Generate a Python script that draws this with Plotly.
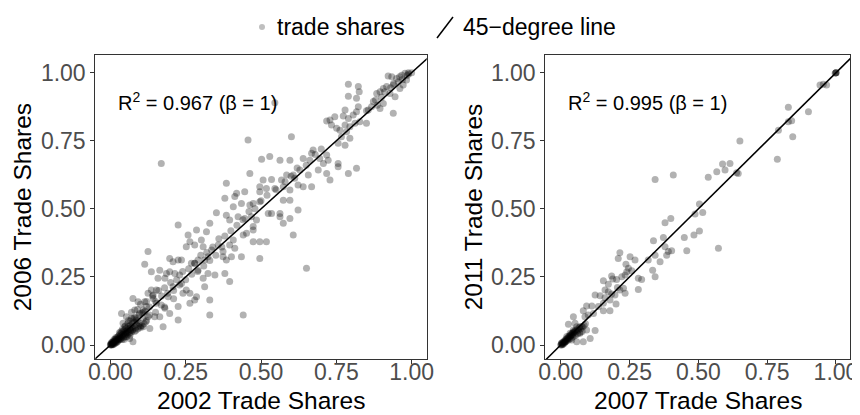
import plotly.graph_objects as go

# ---------------- data ----------------
x2002 = [0.922,0.934,0.950,0.967,0.978,0.989,0.956,0.939,0.917,0.906,0.895,0.884,0.928,0.945,0.961,0.972,0.983,0.939,
         0.886,0.895,0.906,0.873,0.867,0.856,0.823,0.826,0.790,0.790,0.817,0.823,0.817,0.806,0.790,0.779,0.773,0.745,
         0.729,0.718,0.734,0.751,0.762,0.779,0.795,0.812,0.828,0.850,0.784,0.767,0.756,0.779,0.795,0.601,0.457,0.546,0.169,
         0.673,0.668,0.695,0.718,0.723,0.707,0.690,0.662,0.640,0.629,0.657,0.596,0.563,0.529,0.502,0.607,0.585,0.568,
         0.535,0.507,0.496,0.463,0.385,0.419,0.413,0.446,0.496,0.518,0.546,0.574,0.596,0.612,0.623,0.640,0.668,0.729,
         0.718,0.756,0.756,0.790,0.817,0.596,0.574,0.563,0.535,0.524,0.496,0.474,0.463,0.435,0.408,0.380,0.352,0.385,
         0.396,0.424,0.446,0.468,0.485,0.474,0.452,0.441,0.408,0.396,0.374,0.358,0.330,0.319,0.302,0.286,0.258,0.264,
         0.225,0.252,0.280,0.308,0.336,0.324,0.313,0.291,0.280,0.269,0.236,0.225,0.208,0.197,0.186,0.181,0.158,0.153,
         0.142,0.125,0.114,0.136,0.164,0.197,0.214,0.230,0.236,0.252,0.241,0.264,0.286,0.313,0.308,0.291,0.324,0.347,
         0.380,0.396,0.385,0.374,0.402,0.435,0.496,0.413,0.651,0.607,0.623,0.574,0.563,0.596,0.518,0.496,0.474,0.474,
         0.441,0.330,0.330,0.280,0.264,0.225,0.225,0.197,0.181,0.169,0.153,0.142,0.120,0.109,0.097,0.081,0.075,0.092,
         0.114,0.125,0.136,0.208,0.192,0.175,0.131,0.109,0.075,0.064,0.053,0.042,0.037,0.048,0.086,0.109,0.125,0.147,
         0.164,0.053,0.070,
         0.000,0.002,0.004,0.005,0.007,0.008,0.010,0.011,0.012,0.014,0.015,0.016,0.018,0.019,0.020,0.021,0.022,0.024,
         0.025,0.026,0.028,0.029,0.030,0.032,0.033,0.035,0.036,0.038,0.040,0.041,0.043,0.045,0.046,0.048,0.050,0.052,
         0.054,0.056,0.058,0.060,0.062,0.064,0.066,0.068,0.070,0.072,0.075,0.078,0.080,0.083,0.086,0.090,0.094,0.098,
         0.003,0.006,0.009,0.013,0.017,0.001,0.003,0.007,0.012,0.018,0.023,0.027,0.034,0.039,0.044,0.050,0.057,0.063,
         0.069,0.073,0.085,0.092,0.100,0.105,0.112,0.118,0.030,0.040,0.049,0.058,0.065,0.075,0.085,0.095,0.105,0.115,
         0.960,0.970,0.940,0.930,0.910,0.990,1.000,0.985,
         0.060,0.070,0.080,0.090,0.100,0.110,0.120,0.130,0.140,0.150,0.160,0.170,0.180,0.190,0.200,0.210,0.220,0.230,
         0.240,0.250,0.260,0.270,0.280,0.290,0.300,0.310,0.320,0.330,0.340,0.350,0.360,0.370,0.380,0.400,0.420,0.440,
         0.460,0.480,0.500,0.520,0.550,0.580,0.600,0.620,0.650,0.680,0.700,0.850,0.880,0.900,
         0.100,0.120,0.150,0.180,0.210,0.080,0.130,0.045,0.055,0.035,0.065]
y2006 = [0.988,0.985,0.979,0.991,0.998,1.000,0.967,0.955,0.949,0.942,0.930,0.924,0.924,0.912,0.942,0.955,0.973,0.851,
         0.881,0.869,0.887,0.894,0.875,0.863,0.949,0.930,0.958,0.914,0.906,0.875,0.857,0.845,0.832,0.863,0.841,0.838,
         0.826,0.823,0.808,0.796,0.789,0.808,0.802,0.814,0.820,0.814,0.783,0.765,0.741,0.734,0.759,0.765,0.753,0.890,0.667,
         0.716,0.704,0.685,0.698,0.679,0.667,0.643,0.679,0.685,0.643,0.624,0.679,0.679,0.692,0.682,0.624,0.624,0.606,
         0.608,0.606,0.581,0.630,0.594,0.557,0.545,0.563,0.563,0.575,0.575,0.581,0.569,0.612,0.588,0.581,0.581,0.606,
         0.630,0.667,0.655,0.630,0.649,0.532,0.532,0.483,0.483,0.483,0.526,0.520,0.514,0.520,0.508,0.539,0.486,0.477,
         0.459,0.471,0.465,0.471,0.459,0.422,0.410,0.404,0.386,0.367,0.343,0.367,0.447,0.416,0.386,0.422,0.404,0.379,
         0.441,0.361,0.367,0.361,0.349,0.324,0.312,0.312,0.300,0.300,0.312,0.312,0.306,0.318,0.263,0.245,0.245,0.202,
         0.184,0.343,0.297,0.269,0.275,0.269,0.263,0.257,0.226,0.202,0.190,0.190,0.177,0.214,0.245,0.275,0.263,0.257,
         0.263,0.233,0.312,0.324,0.324,0.324,0.318,0.355,0.282,0.404,0.496,0.447,0.471,0.465,0.379,0.379,0.435,0.379,
         0.110,0.110,0.165,0.165,0.153,0.141,0.092,0.116,0.135,0.147,0.153,0.171,0.141,0.129,0.116,0.129,0.171,0.159,
         0.159,0.190,0.202,0.214,0.177,0.067,0.061,0.067,0.012,0.024,0.043,0.080,0.116,0.067,0.092,0.098,0.104,0.104,
         0.104,0.104,0.098,
         0.000,0.001,0.003,0.006,0.004,0.010,0.008,0.013,0.006,0.016,0.011,0.020,0.014,0.023,0.009,0.018,0.027,0.021,
         0.015,0.031,0.024,0.036,0.019,0.029,0.041,0.025,0.034,0.046,0.030,0.039,0.052,0.036,0.044,0.057,0.041,0.050,
         0.062,0.046,0.055,0.068,0.050,0.060,0.073,0.055,0.064,0.078,0.058,0.070,0.084,0.062,0.076,0.088,0.068,0.080,
         0.008,0.000,0.002,0.004,0.007,0.004,0.001,0.012,0.020,0.028,0.012,0.019,0.022,0.020,0.027,0.030,0.038,0.043,
         0.047,0.052,0.054,0.060,0.064,0.072,0.078,0.085,0.045,0.058,0.070,0.080,0.088,0.096,0.100,0.110,0.118,0.124,
         0.985,0.975,0.960,0.945,0.930,0.995,1.000,0.990,
         0.090,0.120,0.100,0.130,0.150,0.120,0.160,0.140,0.180,0.160,0.200,0.180,0.210,0.190,0.230,0.200,0.240,0.220,
         0.270,0.240,0.280,0.260,0.300,0.270,0.330,0.290,0.340,0.310,0.360,0.330,0.390,0.360,0.400,0.420,0.440,0.460,
         0.490,0.500,0.530,0.550,0.570,0.600,0.620,0.650,0.660,0.700,0.720,0.860,0.900,0.910,
         0.070,0.090,0.120,0.140,0.170,0.050,0.110,0.020,0.030,0.050,0.035]

x2007 = [1.000,1.000,1.000,0.997,0.942,0.966,0.954,0.827,0.839,0.827,0.900,0.843,0.791,0.787,0.651,0.588,0.615,
         0.597,0.567,0.536,0.639,0.645,0.409,0.343,0.504,0.488,0.516,0.400,0.379,0.449,0.484,0.504,0.337,0.373,0.379,
         0.343,0.391,0.403,0.385,0.361,0.458,0.573,0.318,0.343,0.334,0.215,0.209,0.252,0.270,0.237,0.246,0.258,0.240,
         0.234,0.222,0.203,0.189,0.185,0.282,0.294,0.155,0.173,0.161,0.173,0.185,0.206,0.215,0.228,0.197,0.179,0.161,
         0.143,0.125,0.155,0.234,0.282,0.201,0.179,0.155,0.137,0.113,0.094,0.082,0.119,0.100,0.088,0.046,0.052,0.028,
         0.125,0.107,0.082,0.058,0.040,0.022,0.034,0.070,0.094,0.004,0.016,0.046,0.058,0.070,
         0.000,0.002,0.004,0.006,0.008,0.010,0.012,0.014,0.016,0.018,0.020,0.022,0.024,0.026,0.028,0.030,0.032,0.034,
         0.036,0.038,0.040,0.042,0.044,0.046,0.048,0.050,0.053,0.056,0.060,0.064,0.068,0.072,0.076,0.080,0.085,0.090,
         0.003,0.007,0.011,0.015,0.019,0.025,0.031,0.037,0.043,0.049,0.055,0.062,0.070,0.078]
y2011 = [1.000,1.000,1.000,0.998,0.955,0.955,0.958,0.873,0.824,0.820,0.857,0.765,0.789,0.682,0.749,0.665,0.667,
         0.643,0.636,0.616,0.633,0.630,0.624,0.608,0.518,0.481,0.487,0.465,0.449,0.395,0.404,0.419,0.383,0.395,0.361,
         0.330,0.343,0.346,0.330,0.306,0.346,0.355,0.312,0.251,0.275,0.339,0.318,0.324,0.312,0.297,0.282,0.273,0.269,
         0.257,0.251,0.241,0.242,0.253,0.245,0.241,0.236,0.223,0.202,0.196,0.187,0.211,0.202,0.208,0.184,0.165,0.174,
         0.181,0.184,0.153,0.190,0.204,0.151,0.126,0.126,0.141,0.143,0.143,0.126,0.116,0.110,0.104,0.104,0.080,0.076,
         0.053,0.024,0.012,0.012,0.018,0.031,0.043,0.043,0.055,0.000,0.012,0.055,0.067,0.067,
         0.000,0.003,0.006,0.004,0.010,0.008,0.014,0.011,0.018,0.015,0.022,0.019,0.026,0.023,0.030,0.027,0.034,0.031,
         0.038,0.035,0.042,0.039,0.046,0.043,0.050,0.047,0.054,0.051,0.058,0.055,0.063,0.060,0.068,0.066,0.072,0.078,
         0.007,0.002,0.005,0.009,0.013,0.017,0.021,0.024,0.029,0.033,0.037,0.041,0.046,0.050]

r2_labels = ["R<sup>2</sup> = 0.967 (β = 1)", "R<sup>2</sup> = 0.995 (β = 1)"]
x_titles = ["2002 Trade Shares", "2007 Trade Shares"]
y_titles = ["2006 Trade Shares", "2011 Trade Shares"]
tick_vals = [0.0, 0.25, 0.5, 0.75, 1.0]
tick_text = ["0.00", "0.25", "0.50", "0.75", "1.00"]
legend_labels = ["trade shares", "45\u2212degree line"]

# ---------------- layout constants ----------------
# The page body has an 8px default margin: shrink the figure and shift coordinates.
OFF = 8
W, H = 860 - OFF, 415 - OFF


def px(x):
    return (x - OFF) / W


def py(y):
    return 1 - (y - OFF) / H


FONT = "Liberation Sans, Arial, Helvetica, sans-serif"
PT_COLOR = "rgba(0,0,0,0.3)"
x_rng1 = [-0.05, 1.05]
x_rng2 = [-0.056, 1.051]
y_rng = [-0.0525, 1.064]
dom_x1 = [px(95.3), px(426.7)]
dom_x2 = [px(545.3), px(850.0)]
dom_y = [py(359.3), py(55.3)]

fig = go.Figure()
panels = [(x2002, y2006, "x", "y", x_rng1), (x2007, y2011, "x2", "y2", x_rng2)]
for xs, ys, xa, ya, xr in panels:
    fig.add_trace(go.Scatter(x=xs, y=ys, xaxis=xa, yaxis=ya, mode="markers",
                             marker=dict(size=7, color=PT_COLOR, line=dict(width=0)),
                             showlegend=False, hoverinfo="skip", cliponaxis=True))
    lo = min(xr[0], y_rng[0]) - 0.1
    hi = max(xr[1], y_rng[1]) + 0.1
    fig.add_trace(go.Scatter(x=[lo, hi], y=[lo, hi], xaxis=xa, yaxis=ya, mode="lines",
                             line=dict(color="black", width=1.5), showlegend=False,
                             hoverinfo="skip"))

axis_common = dict(showgrid=False, zeroline=False, showline=True, mirror=True,
                   linecolor="#333333", linewidth=1.1, ticks="outside", ticklen=4,
                   tickwidth=1.1, tickcolor="#333333", tickvals=tick_vals, ticktext=tick_text,
                   tickfont=dict(family=FONT, size=23, color="#4D4D4D"), automargin=False)
xaxis_extra = dict(ticklabelstandoff=-12)

fig.update_layout(
    width=W, height=H, margin=dict(l=0, r=0, t=0, b=0),
    paper_bgcolor="white", plot_bgcolor="white", showlegend=False,
    xaxis=dict(domain=dom_x1, range=x_rng1, anchor="y", **axis_common, **xaxis_extra),
    yaxis=dict(domain=dom_y, range=y_rng, anchor="x", **axis_common),
    xaxis2=dict(domain=dom_x2, range=x_rng2, anchor="y2", **axis_common, **xaxis_extra),
    yaxis2=dict(domain=dom_y, range=y_rng, anchor="x2", **axis_common),
)

ann = []
for i, (xref, yref) in enumerate([("x", "y"), ("x2", "y2")]):
    ann.append(dict(x=0.02, y=0.895, xref=xref, yref=yref, text=r2_labels[i], showarrow=False,
                    xanchor="left", yanchor="middle", font=dict(family=FONT, size=20, color="black")))
for i, cx in enumerate([(dom_x1[0] + dom_x1[1]) / 2, (dom_x2[0] + dom_x2[1]) / 2]):
    ann.append(dict(x=cx, y=py(400), xref="paper", yref="paper", text=x_titles[i],
                    showarrow=False, xanchor="center", yanchor="middle",
                    font=dict(family=FONT, size=24.5, color="black")))
for i, cx in enumerate([px(22), px(473)]):
    ann.append(dict(x=cx, y=(dom_y[0] + dom_y[1]) / 2, xref="paper", yref="paper", text=y_titles[i],
                    showarrow=False, textangle=-90, xanchor="center", yanchor="middle",
                    font=dict(family=FONT, size=24.5, color="black")))
ann.append(dict(x=px(275), y=py(27), xref="paper", yref="paper", text=legend_labels[0],
                showarrow=False, xanchor="left", yanchor="middle",
                font=dict(family=FONT, size=23, color="black")))
ann.append(dict(x=px(461), y=py(27), xref="paper", yref="paper", text=legend_labels[1],
                showarrow=False, xanchor="left", yanchor="middle",
                font=dict(family=FONT, size=23, color="black")))
fig.update_layout(annotations=ann)

fig.add_shape(type="circle", xref="paper", yref="paper",
              x0=px(259), x1=px(265), y0=py(30), y1=py(24),
              fillcolor="rgba(0,0,0,0.25)", line=dict(width=0))
fig.add_shape(type="line", xref="paper", yref="paper",
              x0=px(437), x1=px(453), y0=py(38), y1=py(17),
              line=dict(color="black", width=1.5))

fig.write_html("out.html")
